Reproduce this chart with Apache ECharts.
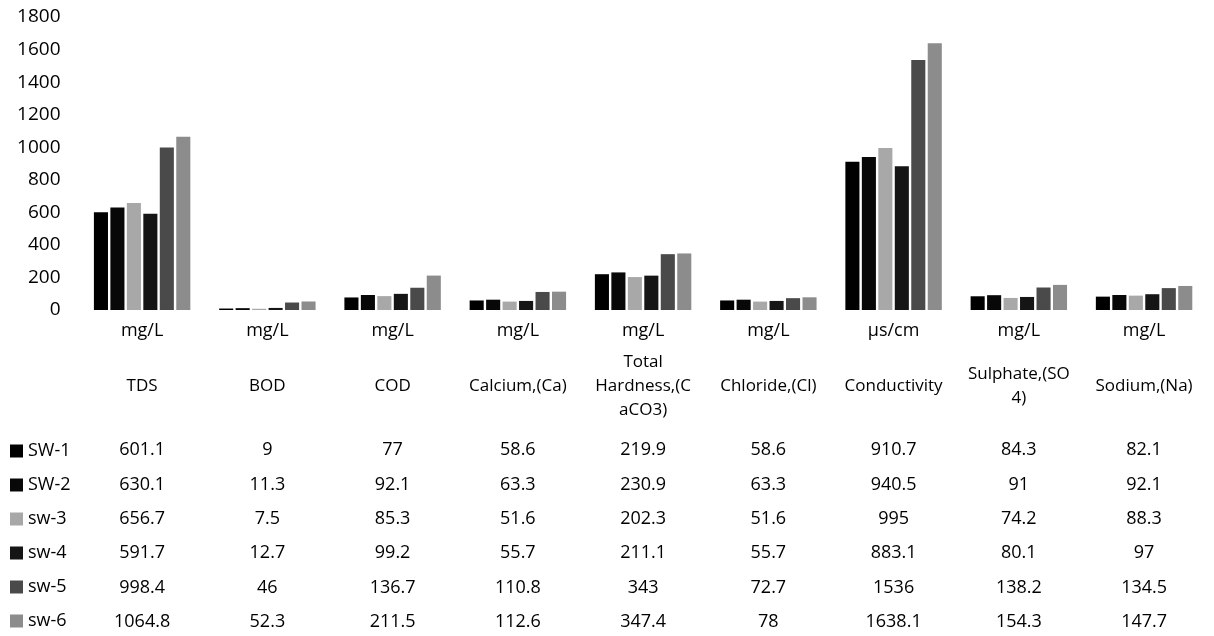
<!DOCTYPE html>
<html>
<head>
<meta charset="utf-8">
<script src="https://cdn.jsdelivr.net/npm/echarts@6/dist/echarts.min.js"></script>
<style>
html,body{margin:0;padding:0;background:#fff;}
#chart{width:1214px;height:636px;}
</style>
</head>
<body>
<div id="chart"></div>
<script>
const categories = ['TDS','BOD','COD','Calcium,(Ca)','Total Hardness,(CaCO3)','Chloride,(Cl)','Conductivity','Sulphate,(SO4)','Sodium,(Na)'];
const headerLabels = ['TDS','BOD','COD','Calcium,(Ca)','Total\nHardness,(C\naCO3)','Chloride,(Cl)','Conductivity','Sulphate,(SO\n4)','Sodium,(Na)'];
const units = ['mg/L','mg/L','mg/L','mg/L','mg/L','mg/L','µs/cm','mg/L','mg/L'];
const seriesNames = ['SW-1','SW-2','sw-3','sw-4','sw-5','sw-6'];
const sw1 = [601.1, 9, 77, 58.6, 219.9, 58.6, 910.7, 84.3, 82.1];
const sw2 = [630.1, 11.3, 92.1, 63.3, 230.9, 63.3, 940.5, 91, 92.1];
const sw3 = [656.7, 7.5, 85.3, 51.6, 202.3, 51.6, 995, 74.2, 88.3];
const sw4 = [591.7, 12.7, 99.2, 55.7, 211.1, 55.7, 883.1, 80.1, 97];
const sw5 = [998.4, 46, 136.7, 110.8, 343, 72.7, 1536, 138.2, 134.5];
const sw6 = [1064.8, 52.3, 211.5, 112.6, 347.4, 78, 1638.1, 154.3, 147.7];
const yTicks = [0, 200, 400, 600, 800, 1000, 1200, 1400, 1600, 1800];

const allValues = [sw1, sw2, sw3, sw4, sw5, sw6];
const colors = ['#000000', '#080808', '#a8a8a8', '#151515', '#4a4a4a', '#8c8c8c'];
const FONT = '"Open Sans", "DejaVu Sans", sans-serif';

const chart = echarts.init(document.getElementById('chart'));
const gridBottomY = 310;
const rowCenters = [450, 484.4, 518.8, 553.2, 587.6, 622];

const xAxes = [];
xAxes.push({
  type: 'category', data: units, gridIndex: 0, position: 'bottom',
  axisLine: {show: false}, axisTick: {show: false},
  axisLabel: {interval: 0, margin: 21, verticalAlign: 'middle', fontFamily: FONT, fontSize: 18, color: '#000'}
});
xAxes.push({
  type: 'category', data: headerLabels, gridIndex: 0, position: 'bottom', offset: 386 - gridBottomY,
  axisLine: {show: false}, axisTick: {show: false},
  axisLabel: {interval: 0, margin: 0, verticalAlign: 'middle', lineHeight: 24, fontFamily: FONT, fontSize: 17, color: '#000'}
});
allValues.forEach((vals, i) => {
  xAxes.push({
    type: 'category', data: vals.map(v => String(v)), gridIndex: 0, position: 'bottom', offset: rowCenters[i] - gridBottomY,
    axisLine: {show: false}, axisTick: {show: false},
    axisLabel: {interval: 0, margin: 0, verticalAlign: 'middle', fontFamily: FONT, fontSize: 18, color: '#000'}
  });
});

const option = {
  animation: false,
  backgroundColor: '#fff',
  grid: {left: 79.5, right: 7.3, top: 17, bottom: 636 - gridBottomY, containLabel: false},
  legend: {
    orient: 'vertical', left: 10, top: 442, height: 220,
    itemWidth: 13, itemHeight: 13, itemGap: 16, padding: 0,
    icon: 'rect',
    textStyle: {fontFamily: FONT, fontSize: 18, color: '#000'},
    data: seriesNames
  },
  xAxis: xAxes,
  yAxis: {
    type: 'value', min: 0, max: 1800, interval: 200,
    axisLine: {show: false}, axisTick: {show: false}, splitLine: {show: false},
    axisLabel: {margin: 19, fontFamily: FONT, fontSize: 19, color: '#000',
      formatter: v => yTicks.includes(v) ? String(v) : ''}
  },
  series: seriesNames.map((name, i) => ({
    name, type: 'bar', xAxisIndex: 0, yAxisIndex: 0,
    data: allValues[i],
    barGap: '17%', barCategoryGap: '23%',
    itemStyle: {color: colors[i]}
  }))
};
chart.setOption(option);
</script>
</body>
</html>
